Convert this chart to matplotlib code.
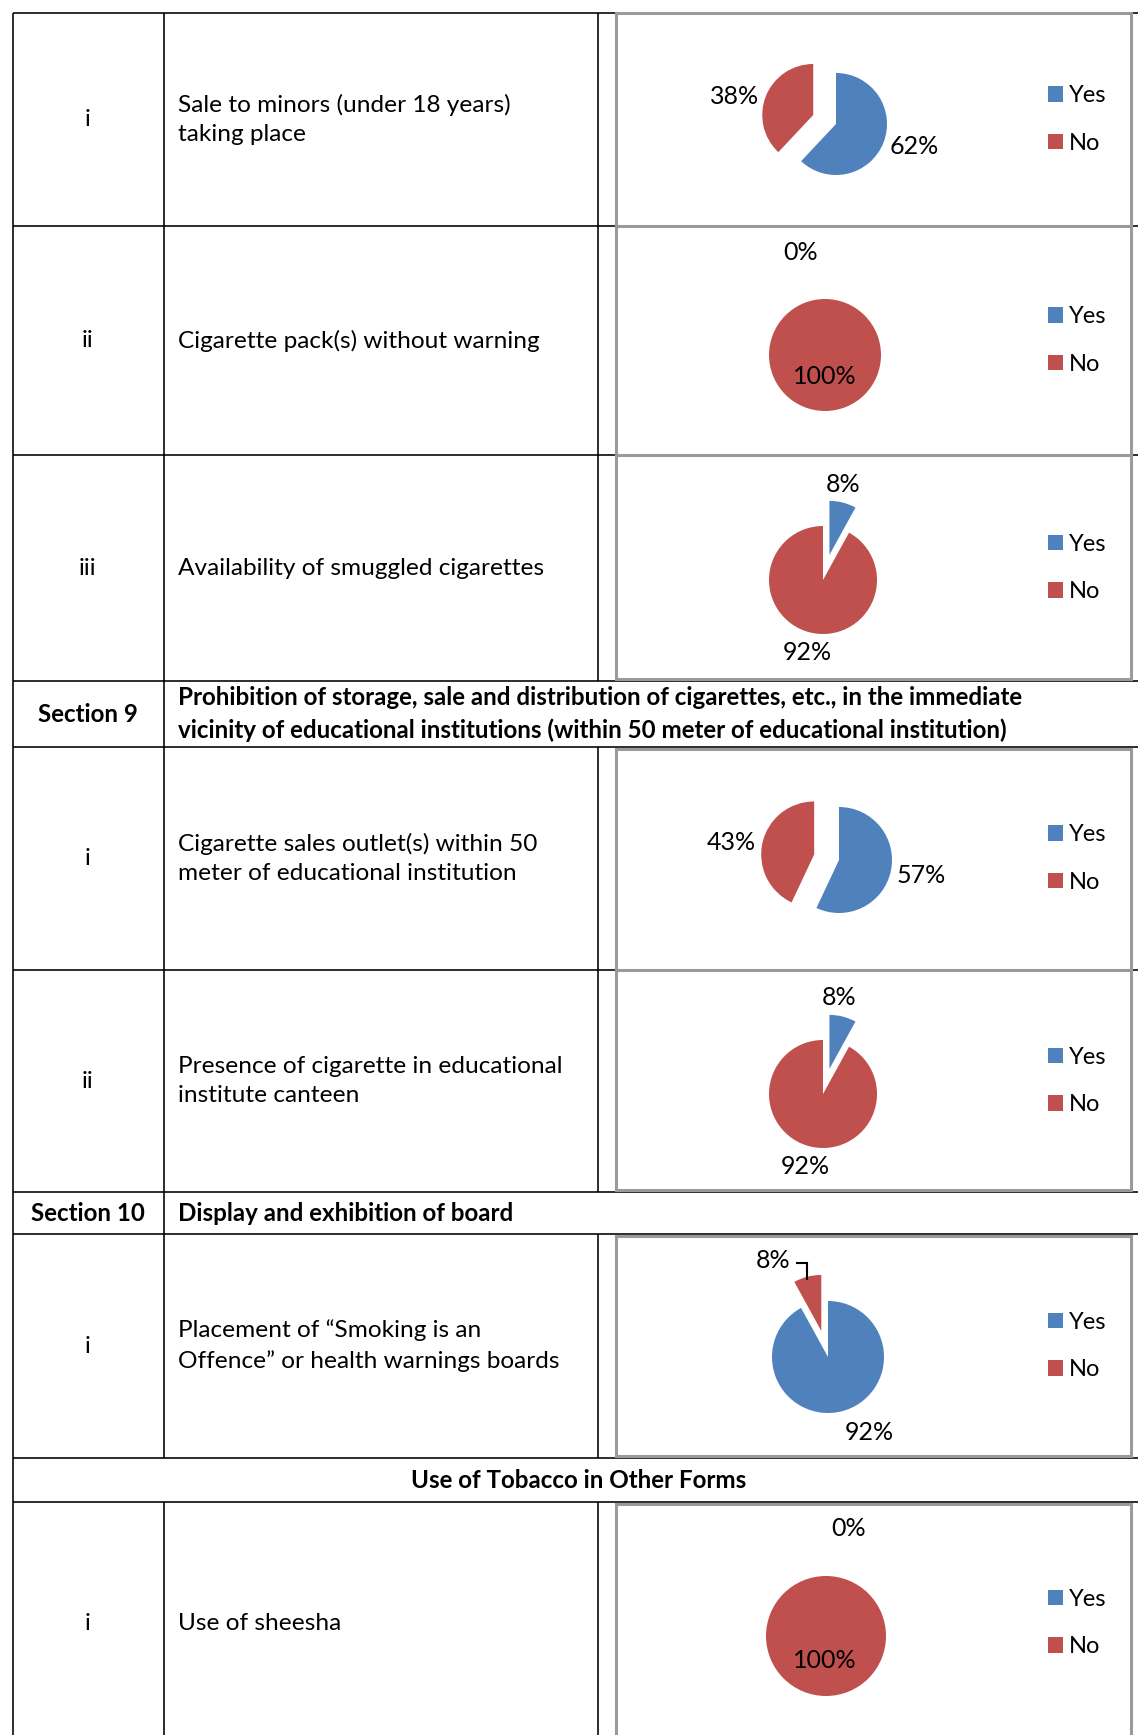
import matplotlib
matplotlib.use('Agg')
import numpy as np
import matplotlib.pyplot as plt
from matplotlib.patches import Patch

plt.rcParams['font.family'] = ['Lato', 'DejaVu Sans']

# ------------------------------------------------------------------
# Data
# ------------------------------------------------------------------
CATEGORIES = ['Yes', 'No']
SLICE_COLORS = ['#4F81BD', '#C0504D']

ROW_KINDS = ['item', 'item', 'item', 'section', 'item', 'item',
             'section', 'item', 'header', 'item']
COL1_TEXT = ['i', 'ii', 'iii', 'Section 9', 'i', 'ii',
             'Section 10', 'i', '', 'i']
COL2_TEXT = [
    'Sale to minors (under 18 years)\ntaking place',
    'Cigarette pack(s) without warning',
    'Availability of smuggled cigarettes',
    'Prohibition of storage, sale and distribution of cigarettes, etc., in the immediate\n'
    'vicinity of educational institutions (within 50 meter of educational institution)',
    'Cigarette sales outlet(s) within 50\nmeter of educational institution',
    'Presence of cigarette in educational\ninstitute canteen',
    'Display and exhibition of board',
    'Placement of \u201cSmoking is an\nOffence\u201d or health warnings boards',
    'Use of Tobacco in Other Forms',
    'Use of sheesha',
]

# one pie per item row, in table order
YES_PCT = [62, 0, 8, 57, 8, 92, 0]
NO_PCT = [38, 100, 92, 43, 92, 8, 100]
EXPLODED = ['No', None, 'Yes', 'No', 'Yes', 'No', None]

# ------------------------------------------------------------------
# Layout (pixels, y downwards)
# ------------------------------------------------------------------
W, H, DPI = 1138, 1735, 100
ROW_EDGES = [13, 226, 455, 681, 747, 970, 1192, 1234, 1458, 1502, 1744]
X_LEFT, X_COL1, X_COL2, X_RIGHT = 13, 164, 598, 1138
CHART_X0, CHART_X1 = 616, 1131
TEXT_X = 178

PIE_CENTER = [(836, 124), (825, 355), (823, 580), (839, 860),
              (823, 1094), (828, 1357), (826, 1636)]
PIE_RADIUS = [51, 56, 54, 53, 54, 56, 60]
EXPLODE_FRAC = 0.48
# label offsets from pie centre (dx, dy) for Yes / No
LABEL_OFFSETS = [
    [(78, 22), (-101, -27)],
    [(-24, -102), (0, 21)],
    [(20, -96), (-16, 73)],
    [(82, 15), (-108, -18)],
    [(16, -97), (-18, 72)],
    [(41, 76), (-55, -97)],
    [(23, -108), (-1, 24)],
]
LEGEND_X = 1048

FS_TABLE = 17.6
FS_BOLD = 17.4
FS_PIE = 18
FS_LEGEND = 17
LW_TABLE = 1.6 * 72 / DPI

fig = plt.figure(figsize=(W / DPI, H / DPI), dpi=DPI)
fig.patch.set_facecolor('white')

ax0 = fig.add_axes([0, 0, 1, 1])
ax0.set_xlim(0, W)
ax0.set_ylim(H, 0)
ax0.axis('off')


def hline(y, x0=X_LEFT, x1=X_RIGHT):
    ax0.plot([x0, x1], [y, y], color='black', lw=LW_TABLE,
             solid_capstyle='butt')


def vline(x, y0, y1):
    ax0.plot([x, x], [y0, y1], color='black', lw=LW_TABLE,
             solid_capstyle='butt')


# ------------------------------------------------------------------
# Table grid and text
# ------------------------------------------------------------------
for y in ROW_EDGES:
    hline(y)
vline(X_LEFT, ROW_EDGES[0], ROW_EDGES[-1])

for i, kind in enumerate(ROW_KINDS):
    top, bot = ROW_EDGES[i], ROW_EDGES[i + 1]
    mid = (top + bot) / 2
    if kind != 'header':
        vline(X_COL1, top, bot)
    if kind == 'item':
        vline(X_COL2, top, bot)

    bold = kind in ('section', 'header')
    weight = 'bold' if bold else 'normal'
    fs = FS_BOLD if bold else FS_TABLE
    if kind == 'header':
        ax0.text((X_LEFT + X_RIGHT) / 2 + 3, mid, COL2_TEXT[i], ha='center',
                 va='center', fontsize=fs, fontweight=weight)
        continue
    ax0.text((X_LEFT + X_COL1) / 2 - 1, mid, COL1_TEXT[i], ha='center',
             va='center', fontsize=fs, fontweight=weight)
    ax0.text(TEXT_X, mid, COL2_TEXT[i], ha='left', va='center',
             fontsize=fs, fontweight=weight, linespacing=1.52)

# ------------------------------------------------------------------
# Pie charts
# ------------------------------------------------------------------
item_rows = [i for i, k in enumerate(ROW_KINDS) if k == 'item']

for k, row in enumerate(item_rows):
    top, bot = ROW_EDGES[row], ROW_EDGES[row + 1]
    mid = (top + bot) / 2
    if row > 0 and ROW_KINDS[row - 1] != 'item':
        top += 2
    if row + 1 < len(ROW_KINDS) and ROW_KINDS[row + 1] != 'item':
        bot -= 2
    w, h = CHART_X1 - CHART_X0, bot - top
    ax = fig.add_axes([CHART_X0 / W, 1 - bot / H, w / W, h / H])

    values = [YES_PCT[k], NO_PCT[k]]
    r = PIE_RADIUS[k]
    cx, cy = PIE_CENTER[k][0] - CHART_X0, bot - PIE_CENTER[k][1]
    explode = [EXPLODE_FRAC * r if EXPLODED[k] == c else 0 for c in CATEGORIES]
    wedges, _ = ax.pie(values, colors=SLICE_COLORS, startangle=90,
                       counterclock=False, explode=explode, radius=r,
                       center=(cx, cy), wedgeprops=dict(linewidth=0))

    for j, v in enumerate(values):
        dx, dy = LABEL_OFFSETS[k][j]
        ax.text(cx + dx, cy - dy, f'{v}%', ha='center', va='center',
                fontsize=FS_PIE)

    # leader line for the small exploded slice of the boards chart
    if k == 5:
        wd = wedges[1]
        tm = np.deg2rad((wd.theta1 + wd.theta2) / 2)
        ex, ey = wd.center[0] + r * np.cos(tm), wd.center[1] + r * np.sin(tm)
        dx, dy = LABEL_OFFSETS[k][1]
        lx, ly = cx + dx + 24, cy - dy - 3
        ax.plot([lx, ex, ex], [ly, ly, ey - 2], color='black', lw=1.5,
                solid_joinstyle='miter')

    handles = [Patch(facecolor=c, edgecolor='none') for c in SLICE_COLORS]
    ax.legend(handles, CATEGORIES, loc='center left',
              bbox_to_anchor=(LEGEND_X - CHART_X0, bot - mid),
              bbox_transform=ax.transData, frameon=False, fontsize=FS_LEGEND,
              handlelength=0.64, handleheight=0.64, handletextpad=0.25,
              labelspacing=1.12, borderpad=0, borderaxespad=0)

    ax.set_xlim(0, w)
    ax.set_ylim(0, h)
    ax.set_aspect('auto')
    ax.set_frame_on(True)
    ax.set_facecolor('white')
    ax.set_xticks([])
    ax.set_yticks([])
    for s in ax.spines.values():
        s.set_color('#9a9a9a')
        s.set_linewidth(2.2)

fig.savefig('out.png', dpi=DPI, facecolor='white')
